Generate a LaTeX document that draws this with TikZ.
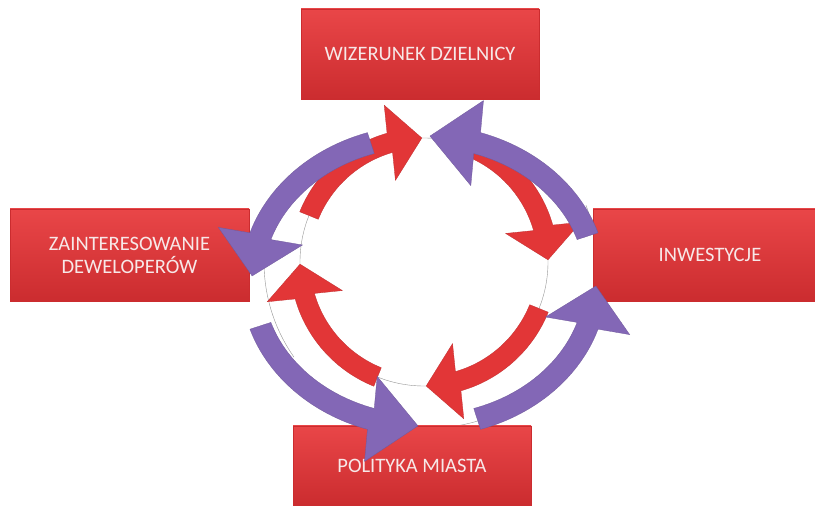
\documentclass[tikz,border=0pt]{standalone}
\usepackage{fontspec}
\setmainfont{Carlito}
\usetikzlibrary{calc}

\definecolor{boxtop}{RGB}{233,70,72}
\definecolor{boxbottom}{RGB}{203,44,47}
\definecolor{boxtext}{RGB}{247,232,232}
\definecolor{arrowred}{RGB}{226,54,55}
\definecolor{arrowpurple}{RGB}{131,103,182}
\definecolor{ringgray}{RGB}{150,150,150}

\tikzset{
	box/.style={top color=boxtop, bottom color=boxbottom, draw=boxbottom, line width=0.3pt,
		inner sep=0pt, outer sep=0pt, text=boxtext, align=center,
		font=\fontsize{20.5}{23}\selectfont},
	redarrow/.style={fill=arrowred, draw=arrowred!85!black, line width=0.3pt},
	purplearrow/.style={fill=arrowpurple, draw=arrowpurple!85!black, line width=0.3pt},
	ring/.style={draw=ringgray, line width=0.4pt}
}

\begin{document}
\begin{tikzpicture}[x=1pt,y=1pt]
				\useasboundingbox (0,0) rectangle (815,508);
				\fill[white] (0,0) rectangle (815,508);
				
				\draw[ring] (424,246) circle (124);
				\draw[ring] (430,246) ++(165:166) arc (165:215:166);
				\draw[ring] (430,246) ++(-20:166) arc (-20:20:166);
				\draw[ring] (430,246) ++(250:166) arc (250:295:166);
				
				\node[box, minimum width=238, minimum height=90] (wizerunek) at (420,454) {WIZERUNEK DZIELNICY};
				\node[box, minimum width=239, minimum height=92] (deweloperzy) at (129.5,253) {ZAINTERESOWANIE\\DEWELOPERÓW};
				\node[box, minimum width=234, minimum height=92] (inwestycje) at (710,253) {INWESTYCJE};
				\node[box, minimum width=238, minimum height=79] (polityka) at (412,42.5) {POLITYKA MIASTA};
				
				% inner ring, clockwise
				\begin{scope}[shift={(424,246)}]
				\foreach \q in {90,0,-90,180}{
					\coordinate (rbase) at (\q+16:124);
					\coordinate (rtip) at (\q+1:124);
					\draw[redarrow] (\q+68:134) arc[start angle=\q+68, end angle=\q+16, radius=134]
						-- ($(rbase)!38pt!90:(rtip)$) -- (rtip) -- ($(rbase)!38pt!-90:(rtip)$)
						-- (\q+16:114) arc[start angle=\q+16, end angle=\q+68, radius=114] -- cycle;
				}
				\end{scope}
				
				% outer ring, counterclockwise
				\begin{scope}[shift={(424,227)}]
				\foreach \q in {90,0,180,270}{
					\coordinate (pbase) at (\q+72:172 and 145);
					\coordinate (ptip) at (\q+88:172 and 145);
					\draw[purplearrow] (\q+18:183 and 156) arc[start angle=\q+18, end angle=\q+72, x radius=183, y radius=156]
						-- ($(pbase)!43pt!-90:(ptip)$) -- (ptip) -- ($(pbase)!43pt!90:(ptip)$)
						-- (\q+72:161 and 134) arc[start angle=\q+72, end angle=\q+18, x radius=161, y radius=134] -- cycle;
				}
				\end{scope}
\end{tikzpicture}
\end{document}
